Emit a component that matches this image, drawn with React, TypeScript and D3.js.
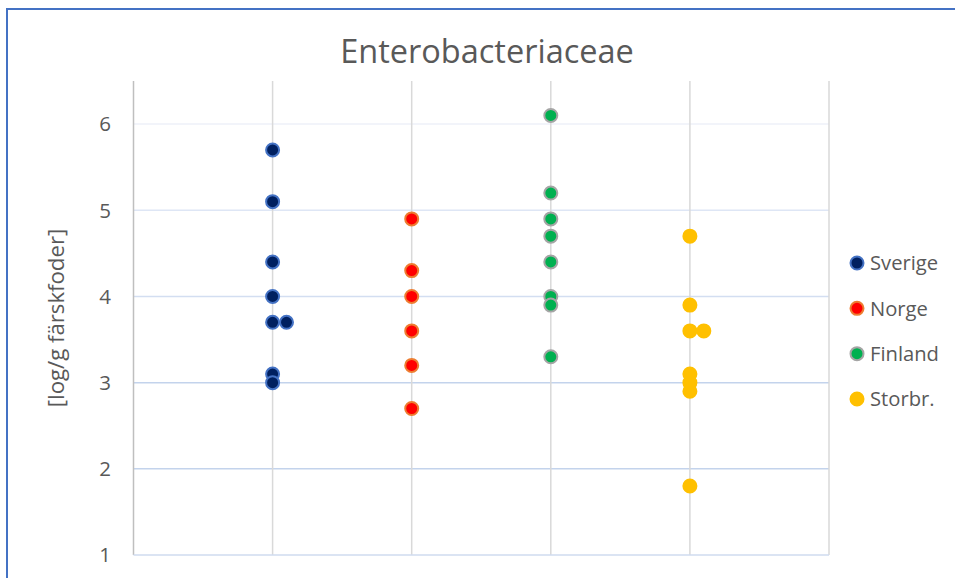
import React from "react";
import * as d3 from "d3";

const title = "Enterobacteriaceae";
const yAxisLabel = "[log/g färskfoder]";
const yTicks = [1, 2, 3, 4, 5, 6];
const xGrid = [0, 1, 2, 3, 4, 5];

const seriesNames = ["Sverige", "Norge", "Finland", "Storbr."];
const sverigeX = [1, 1, 1, 1, 1, 1.1, 1, 1];
const sverigeY = [5.7, 5.1, 4.4, 4.0, 3.7, 3.7, 3.1, 3.0];
const norgeX = [2, 2, 2, 2, 2, 2];
const norgeY = [4.9, 4.3, 4.0, 3.6, 3.2, 2.7];
const finlandX = [3, 3, 3, 3, 3, 3, 3, 3];
const finlandY = [6.1, 5.2, 4.9, 4.7, 4.4, 4.0, 3.9, 3.3];
const storbrX = [4, 4, 4, 4.1, 4, 4, 4, 4];
const storbrY = [4.7, 3.9, 3.6, 3.6, 3.1, 3.0, 2.9, 1.8];

const fills = ["#002060", "#ff0000", "#00b050", "#ffc000"];
const strokes = ["#4472c4", "#ed7d31", "#a5a5a5", "#ffc000"];

const W = 955;
const H = 578;
const left = 133.5;
const right = 829;
const top = 81;
const bottom = 555;

const font = "'Open Sans', 'Liberation Sans', sans-serif";
const textColor = "#595959";

export default function App() {
  const x = d3.scaleLinear().domain([0, 5]).range([left, right]);
  const y = d3.scaleLinear().domain([1, 6.5]).range([bottom, top]);
  const series = [
    { name: seriesNames[0], xs: sverigeX, ys: sverigeY },
    { name: seriesNames[1], xs: norgeX, ys: norgeY },
    { name: seriesNames[2], xs: finlandX, ys: finlandY },
    { name: seriesNames[3], xs: storbrX, ys: storbrY },
  ];
  const hGridColor = (v: number) =>
    v >= 6 ? "#eef1f9" : v >= 5 ? "#dee6f5" : v >= 4 ? "#d3def1" : "#c3d3ec";
  const legendY = d3.scalePoint<string>().domain(seriesNames).range([263, 399]);

  return (
    <svg
      width={W}
      height={H}
      style={{ position: "absolute", left: 0, top: 0, background: "#fff" }}
    >
      <rect x={0} y={0} width={W} height={H} fill="#fff" />
      <rect x={7} y={9} width={W + 20} height={H + 20} fill="#fff" stroke="#4472c4" strokeWidth={2} />
      <text
        x={487}
        y={63}
        textAnchor="middle"
        fontFamily={font}
        fontSize={32.5}
        fill={textColor}
      >
        {title}
      </text>
      {/* horizontal gridlines */}
      {yTicks.slice(1).map((t) => (
        <line key={"h" + t} x1={left} x2={right} y1={y(t)} y2={y(t)} stroke={hGridColor(t)} strokeWidth={1.5} />
      ))}
      {/* vertical gridlines */}
      {xGrid.slice(1).map((t) => (
        <line key={"v" + t} x1={x(t)} x2={x(t)} y1={top} y2={bottom} stroke="#d9d9d9" strokeWidth={1.5} />
      ))}
      {/* axes */}
      <line x1={left} x2={left} y1={top} y2={bottom} stroke="#bfbfbf" strokeWidth={1.5} />
      <line x1={left} x2={right} y1={y(1)} y2={y(1)} stroke="#cfdbef" strokeWidth={1.5} />
      {yTicks.map((t) => (
        <text
          key={"t" + t}
          x={111}
          y={y(t)}
          dy="0.36em"
          textAnchor="end"
          fontFamily={font}
          fontSize={20.5}
          fill={textColor}
        >
          {t}
        </text>
      ))}
      <text
        transform={`translate(64,318) rotate(-90)`}
        textAnchor="middle"
        fontFamily={font}
        fontSize={22.2}
        fill={textColor}
      >
        {yAxisLabel}
      </text>
      {/* points */}
      {series.map((s, i) =>
        s.ys.map((v, j) => (
          <circle
            key={s.name + j}
            cx={x(s.xs[j])}
            cy={y(v)}
            r={6.5}
            fill={fills[i]}
            stroke={strokes[i]}
            strokeWidth={2}
          />
        ))
      )}
      {/* legend */}
      {series.map((s, i) => (
        <g key={"lg" + s.name} transform={`translate(857,${legendY(s.name)})`}>
          <circle r={6.5} fill={fills[i]} stroke={strokes[i]} strokeWidth={2} />
          <text x={13} dy="0.36em" fontFamily={font} fontSize={20.2} fill={textColor}>
            {s.name}
          </text>
        </g>
      ))}
    </svg>
  );
}
